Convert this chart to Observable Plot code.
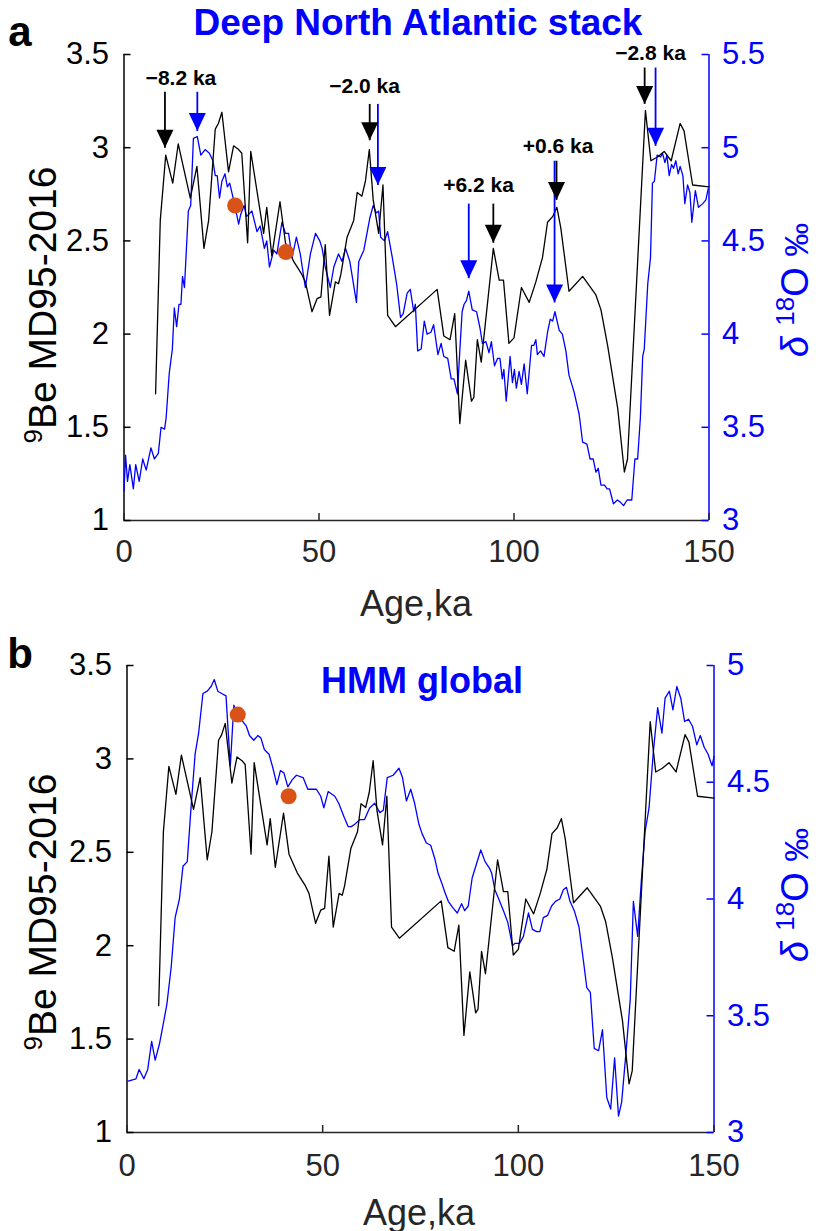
<!DOCTYPE html>
<html><head><meta charset="utf-8">
<script src="https://cdn.jsdelivr.net/npm/d3@7"></script>
<script src="https://cdn.jsdelivr.net/npm/@observablehq/plot@0.6"></script>
<style>
body{margin:0;background:#fff}
#fig{width:818px;height:1231px;background:#fff}
#fig svg{display:block;overflow:visible}
</style>
</head><body><div id="fig"></div>
<script>
// ---------- DATA ----------
// 9Be MD95-2016 (black, left axis) – same record in both panels
const beAge = [8.1,9.3,10.7,12.5,13.9,17.0,18.7,20.5,21.7,23.4,24.2,25.1,26.8,28.1,29.4,30.2,31.7,32.5,35.8,36.6,37.9,40.0,41.4,43.5,45.6,46.5,48.2,49.5,50.5,51.6,52.7,54.2,55.0,55.6,57.2,58.9,59.8,61.0,61.9,62.9,63.9,65.3,66.4,67.6,69.6,80.3,82.0,83.6,84.8,86.1,87.6,89.1,89.7,90.6,91.6,94.7,96.2,97.3,98.7,100.0,101.9,103.9,105.6,107.3,108.6,109.9,111.0,112.0,114.1,117.6,121.0,122.3,124.0,126.6,128.3,129.1,133.7,135.1,136.8,138.5,140.3,142.6,143.6,145.8,150];
const beVal = [1.68,2.61,2.96,2.81,3.02,2.73,2.90,2.46,2.61,3.10,3.13,3.19,2.87,3.01,2.99,2.97,2.49,2.98,2.54,2.68,2.42,2.71,2.49,2.39,2.32,2.28,2.12,2.19,2.20,2.48,2.10,2.28,2.27,2.32,2.52,2.61,2.76,2.74,2.82,2.99,2.72,2.54,2.80,2.10,2.04,2.24,1.99,1.97,2.11,1.52,1.86,1.64,1.66,1.97,1.85,2.46,2.29,2.29,1.95,1.98,2.25,2.17,2.28,2.41,2.60,2.63,2.68,2.57,2.23,2.31,2.21,2.13,1.94,1.60,1.26,1.33,3.20,2.93,2.95,2.98,2.93,3.13,3.09,2.80,2.79];

// Deep North Atlantic stack d18O (blue, right axis, panel a)
const dnaAge = [0,0.4,0.9,1.5,2.4,3.0,3.9,4.8,5.7,6.9,7.8,8.8,9.5,10.4,10.8,11.6,12.4,12.9,13.5,14.1,14.6,15.0,15.5,16.5,17.1,17.8,18.8,19.7,20.8,21.9,22.8,23.4,23.9,24.5,25.1,25.9,26.5,27.1,28.1,29.4,29.9,30.8,31.4,32.8,34.1,34.9,36.0,36.6,37.3,38.4,39.2,40.5,41.4,42.2,43.1,44.2,45.2,46.5,47.8,49.1,50.2,50.8,51.6,52.9,53.8,55.0,55.9,56.8,57.9,59.6,60.2,61.5,63.0,63.9,64.7,65.3,65.8,66.8,67.6,68.8,69.9,70.9,71.6,72.6,73.4,74.3,74.7,75.3,76.2,77.0,77.7,78.7,79.4,80.5,81.3,82.0,83.0,83.9,84.6,85.5,86.1,86.7,87.2,87.8,88.4,89.3,90.4,91.3,91.9,92.8,93.6,94.2,95.0,95.8,96.4,97.0,97.4,98.0,99.0,99.6,100.1,100.6,101.3,101.9,102.6,103.4,104.5,105.1,105.6,106.0,106.8,107.7,108.6,109.3,109.9,110.5,111.6,112.4,113.3,114.1,115.4,116.7,117.6,118.7,119.5,120.3,121.0,121.6,122.3,123.2,123.9,124.5,125.5,126.5,127.2,128.1,129.0,130.2,131.0,131.7,132.4,133.0,133.4,134.3,135.0,135.5,136.0,136.7,137.6,138.1,138.7,139.2,139.8,140.4,140.9,141.5,142.1,142.6,143.3,143.8,144.5,145.1,145.6,146.5,147.3,148.4,149.2,149.8];
const dnaD18O = [3.16,3.35,3.21,3.30,3.17,3.30,3.21,3.33,3.27,3.39,3.33,3.36,3.50,3.49,3.55,3.79,3.92,4.14,4.04,4.16,4.16,4.31,4.25,4.66,4.69,5.05,5.06,4.96,4.99,4.97,4.93,4.85,4.85,4.73,4.82,4.86,4.79,4.81,4.72,4.59,4.64,4.69,4.63,4.66,4.55,4.58,4.46,4.50,4.36,4.45,4.43,4.60,4.54,4.54,4.41,4.52,4.43,4.25,4.43,4.54,4.50,4.46,4.36,4.25,4.36,4.43,4.39,4.46,4.39,4.17,4.39,4.45,4.62,4.69,4.65,4.66,4.52,4.50,4.55,4.41,4.27,4.09,4.11,4.22,4.24,4.12,4.16,3.91,3.92,4.07,4.00,4.01,4.05,3.89,3.95,3.88,3.87,3.76,3.76,3.68,3.91,4.12,4.16,4.18,4.23,4.13,4.12,4.03,3.95,3.96,3.90,3.96,3.83,3.87,3.87,3.76,3.81,3.64,3.88,3.74,3.81,3.71,3.80,3.73,3.84,3.68,3.94,3.94,3.97,3.89,3.91,3.88,4.01,4.08,4.07,4.12,4.02,4.00,3.91,3.78,3.69,3.57,3.42,3.41,3.33,3.33,3.26,3.28,3.19,3.19,3.17,3.17,3.09,3.11,3.10,3.08,3.11,3.11,3.33,3.33,3.55,3.88,3.92,4.27,4.41,4.81,4.82,4.96,4.95,4.97,4.92,4.96,4.85,4.91,4.89,4.93,4.86,4.90,4.85,4.70,4.80,4.76,4.60,4.77,4.68,4.70,4.72,4.78];

// HMM global d18O (blue, right axis, panel b)
const hmmAge = [0.3,2.3,3.1,4.3,5.3,6.3,7.2,8.3,9.1,10.2,11.3,12.3,13.4,14.3,15.4,16.4,17.4,18.3,19.4,20.5,21.5,22.3,23.2,24.2,25.3,26.4,27.3,28.3,29.6,30.5,31.3,32.4,33.4,34.2,35.1,36.3,37.3,38.3,39.2,40.1,41.1,42.2,43.3,45.0,46.2,47.4,48.4,49.5,50.3,51.4,53.1,54.1,55.5,56.5,57.3,58.2,59.5,60.7,62.0,63.3,64.6,65.5,66.5,68.0,69.5,70.4,71.4,72.5,73.5,74.6,75.4,76.5,77.6,78.7,79.5,80.4,81.2,82.1,83.4,84.4,85.5,86.3,87.2,88.2,89.3,90.4,91.5,92.7,93.2,94.0,95.0,96.2,97.3,98.5,99.1,100.3,101.3,102.6,103.6,104.7,105.5,106.4,107.5,108.5,109.5,110.6,111.5,112.3,113.2,114.3,115.5,116.6,117.5,118.4,119.4,120.5,121.5,122.6,123.6,124.6,125.6,126.4,127.5,128.6,129.4,130.5,131.4,132.4,133.4,134.5,135.6,136.7,137.5,138.6,139.5,140.5,141.5,142.5,143.5,144.5,145.6,146.5,147.5,148.5,149.5,150];
const hmmD18O = [3.22,3.23,3.27,3.23,3.27,3.39,3.31,3.38,3.45,3.55,3.71,3.92,4.00,4.14,4.16,4.40,4.62,4.71,4.88,4.89,4.91,4.94,4.89,4.88,4.87,4.57,4.83,4.78,4.76,4.74,4.70,4.68,4.70,4.69,4.64,4.62,4.56,4.49,4.55,4.54,4.48,4.51,4.53,4.52,4.47,4.47,4.47,4.44,4.39,4.46,4.44,4.41,4.35,4.31,4.31,4.32,4.34,4.34,4.39,4.41,4.37,4.38,4.52,4.53,4.56,4.52,4.42,4.47,4.41,4.32,4.28,4.24,4.23,4.17,4.11,4.07,4.03,3.99,3.96,3.94,3.98,3.95,3.97,4.09,4.15,4.21,4.16,4.13,4.11,4.04,4.00,3.95,3.90,3.80,3.81,3.81,3.84,3.94,3.87,3.86,3.86,3.92,3.93,3.97,3.99,4.00,4.04,4.05,3.99,3.95,3.88,3.74,3.62,3.60,3.36,3.35,3.44,3.15,3.10,3.32,3.07,3.13,3.34,3.57,3.99,3.84,4.07,4.29,4.39,4.63,4.82,4.71,4.86,4.89,4.81,4.91,4.86,4.76,4.77,4.74,4.66,4.70,4.65,4.62,4.57,4.61];

// orange tie points (d18O, right axis)
const dotAgeA = [28.5, 41.5], dotD18OA = [4.69, 4.44];
const dotAgeB = [28.3, 41.3], dotD18OB = [4.79, 4.44];

// arrows in panel a (values on the left 9Be scale)
const arrowAge   = [10.5, 18.8, 63.0, 65.1, 88.4, 94.7, 110.9, 110.4, 133.5, 136.3];
const arrowTop   = [3.30, 3.30, 3.235, 3.235, 2.70, 2.70, 2.93, 2.93, 3.43, 3.43];
const arrowTip   = [3.00, 3.09, 3.04, 2.80, 2.30, 2.49, 2.72, 2.17, 3.235, 3.01];
const arrowColor = ["black","blue","black","blue","blue","black","black","blue","black","blue"];
const lagText = ["\u22128.2 ka", "\u22122.0 ka", "+6.2 ka", "+0.6 ka", "\u22122.8 ka"];
const lagAge  = [14.6, 61.7, 90.9, 111.3, 135.0];
const lagVal  = [3.37, 3.33, 2.80, 3.01, 3.505];

// axes ticks
const xTicks = [0, 50, 100, 150];
const beTicks = [1, 1.5, 2, 2.5, 3, 3.5];
const d18OTicksA = [3, 3.5, 4, 4.5, 5, 5.5];
const d18OTicksB = [3, 3.5, 4, 4.5, 5];

// ---------- DRAWING ----------
const FONT = "'Liberation Sans', Arial, Helvetica, sans-serif";
const BLUE = "#0000ff", ORANGE = "#D95319", AXGRAY = "#262626";
const fmt = v => String(Math.round(v * 10) / 10);

const headSymbol = { draw(ctx) { ctx.moveTo(0, 0); ctx.lineTo(-8.5, -18); ctx.lineTo(8.5, -18); ctx.closePath(); } };

function panel(cfg) {
  const W = 818;
  const innerW = W - cfg.ml - cfg.mr, innerH = cfg.H - cfg.mt - cfg.mb;
  const toL = cfg.toLeft, fromL = cfg.fromLeft;
  const marks = [
    Plot.ruleY([1], {stroke: AXGRAY, strokeWidth: 1.5}),
    Plot.ruleX([0], {stroke: "black", strokeWidth: 1.5}),
    Plot.ruleX([150], {stroke: BLUE, strokeWidth: 1.5}),
    Plot.tickX(xTicks, {x: d => d, insetTop: innerH - 7, stroke: AXGRAY, strokeWidth: 1.5}),
    Plot.tickY(beTicks, {y: d => d, insetRight: innerW - 7, stroke: "black", strokeWidth: 1.5}),
    Plot.tickY(cfg.rTicks.map(toL), {y: d => d, insetLeft: innerW - 7, stroke: BLUE, strokeWidth: 1.5}),
    Plot.axisX(xTicks, {tickSize: 0, tickPadding: cfg.xPad, fontSize: 31, fill: AXGRAY, tickFormat: d => String(d)}),
    Plot.axisY(beTicks, {anchor: "left", tickSize: 0, tickPadding: 15, fontSize: 31, fill: "black", tickFormat: fmt}),
    Plot.axisY(cfg.rTicks.map(toL), {anchor: "right", tickSize: 0, tickPadding: 13, fontSize: 31, fill: BLUE, tickFormat: d => fmt(fromL(d))}),
    Plot.line(cfg.blueAge, {x: cfg.blueAge, y: cfg.blueD.map(toL), stroke: BLUE, strokeWidth: 1.3}),
    Plot.line(beAge, {x: beAge, y: beVal, stroke: "black", strokeWidth: 1.3}),
    Plot.dot(cfg.dotAge, {x: cfg.dotAge, y: cfg.dotD.map(toL), r: 8, fill: ORANGE, stroke: "none"})
  ];
  if (cfg.arrows) {
    marks.push(
      Plot.link(arrowAge, {x1: arrowAge, x2: arrowAge, y1: arrowTop, y2: arrowTip, stroke: arrowColor, strokeWidth: 1.8}),
      Plot.dot(arrowAge, {x: arrowAge, y: arrowTip, symbol: headSymbol, fill: arrowColor, stroke: "none", r: 5}),
      Plot.text(lagText, {x: lagAge, y: lagVal, text: lagText, fontSize: 21, fontWeight: "bold", fill: "black"})
    );
  }
  const svg = Plot.plot({
    width: W, height: cfg.H,
    marginLeft: cfg.ml, marginRight: cfg.mr, marginTop: cfg.mt, marginBottom: cfg.mb,
    x: {domain: [0, 150], axis: null},
    y: {domain: [1, 3.5], axis: null},
    style: {fontFamily: FONT, background: "white", overflow: "visible"},
    marks
  });
  const s = d3.select(svg).attr("font-family", FONT);
  s.append("text").attr("x", cfg.letterX).attr("y", cfg.letterY).attr("font-size", 42).attr("font-weight", "bold").text(cfg.letter);
  s.append("text").attr("x", cfg.titleX).attr("y", cfg.titleY).attr("text-anchor", "middle")
    .attr("font-size", cfg.titleSize).attr("font-weight", "bold").attr("fill", BLUE).text(cfg.title);
  s.append("text").attr("x", cfg.xlabX).attr("y", cfg.xlabY).attr("text-anchor", "middle")
    .attr("font-size", 36).attr("fill", AXGRAY).text("Age,ka");
  const yl = s.append("text").attr("transform", `translate(${cfg.ylX},${cfg.ylY}) rotate(-90)`)
    .attr("text-anchor", "middle").attr("font-size", 39).attr("fill", "black");
  yl.append("tspan").attr("font-size", 26).attr("dy", -14).text("9");
  yl.append("tspan").attr("dy", 14).text("Be MD95-2016");
  const yr = s.append("text").attr("transform", `translate(${cfg.yrX},${cfg.yrY}) rotate(-90)`)
    .attr("text-anchor", "middle").attr("font-size", 38).attr("fill", BLUE);
  yr.append("tspan").attr("font-style", "italic").text("\u03B4 ");
  yr.append("tspan").attr("font-size", 26).attr("dy", -14).text("18");
  yr.append("tspan").attr("dy", 14).text("O ");
  yr.append("tspan").attr("font-size", 34).text("\u2030");
  return svg;
}

const fig = document.getElementById("fig");
fig.appendChild(panel({
  H: 640, ml: 123.5, mr: 109.5, mt: 54, mb: 120, xPad: 19,
  toLeft: d => d - 2, fromLeft: b => b + 2, rTicks: d18OTicksA,
  blueAge: dnaAge, blueD: dnaD18O, dotAge: dotAgeA, dotD: dotD18OA, arrows: true,
  letter: "a", letterX: 20, letterY: 46,
  title: "Deep North Atlantic stack", titleX: 418, titleY: 35, titleSize: 37,
  xlabX: 416, xlabY: 616, ylX: 56, ylY: 305, yrX: 808, yrY: 290
}));
fig.appendChild(panel({
  H: 591, ml: 126.5, mr: 104.5, mt: 25, mb: 99, xPad: 21,
  toLeft: d => 1 + (d - 3) * 1.25, fromLeft: b => 3 + (b - 1) / 1.25, rTicks: d18OTicksB,
  blueAge: hmmAge, blueD: hmmD18O, dotAge: dotAgeB, dotD: dotD18OB, arrows: false,
  letter: "b", letterX: 20, letterY: 28,
  title: "HMM global", titleX: 422, titleY: 53, titleSize: 36,
  xlabX: 419, xlabY: 585, ylX: 56, ylY: 272, yrX: 808, yrY: 255
}));
</script></body></html>
